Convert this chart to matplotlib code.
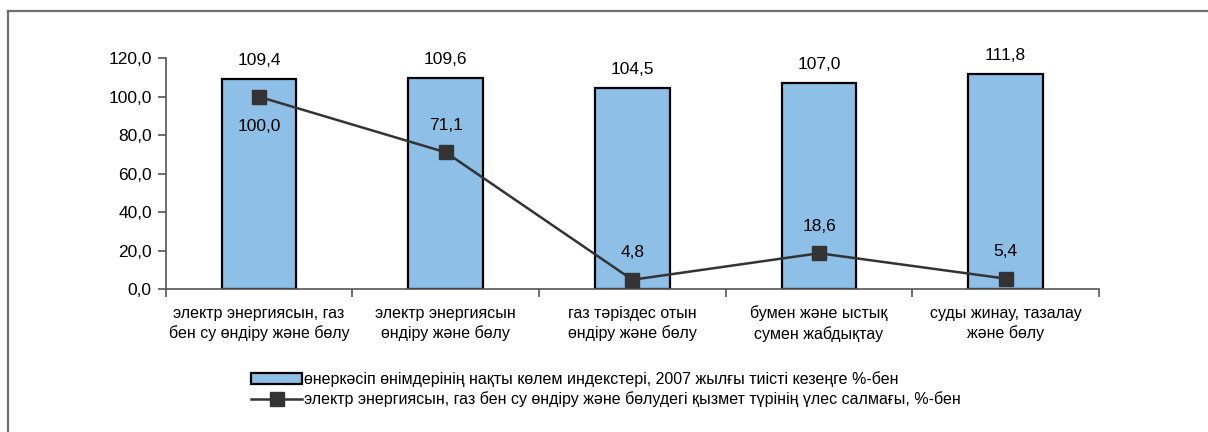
import matplotlib
matplotlib.use("Agg")
import matplotlib.pyplot as plt
from matplotlib.lines import Line2D
import numpy as np

plt.rcParams['font.family'] = ['Liberation Sans', 'DejaVu Sans']

categories = [
    "электр энергиясын, газ\nбен су өндіру және бөлу",
    "электр энергиясын\nөндіру және бөлу",
    "газ тәріздес отын\nөндіру және бөлу",
    "бумен және ыстық\nсумен жабдықтау",
    "суды жинау, тазалау\nжәне бөлу",
]
index_values = [109.4, 109.6, 104.5, 107.0, 111.8]
share_values = [100.0, 71.1, 4.8, 18.6, 5.4]
share_label_pos = ["below", "above", "above", "above", "above"]
yticks = [0, 20, 40, 60, 80, 100, 120]
legend_labels = [
    "өнеркәсіп өнімдерінің нақты көлем индекстері, 2007 жылғы тиісті кезеңге %-бен",
    "электр энергиясын, газ бен су өндіру және бөлудегі қызмет түрінің үлес салмағы, %-бен",
]

W, H = 1208, 432
fig = plt.figure(figsize=(W / 100, H / 100), dpi=100)
ax = fig.add_axes([165.7 / W, 1 - 289 / H, (1099 - 165.7) / W, (289 - 58.3) / H])

x = np.arange(len(categories))
bars = ax.bar(x, index_values, width=0.40, color="#8EBFE7", edgecolor="black",
              linewidth=1.6, zorder=2, label=legend_labels[0])
line, = ax.plot(x, share_values, color="#333333", linewidth=1.8, marker="s",
                markersize=10, markerfacecolor="#333333", markeredgecolor="#333333",
                zorder=3, label=legend_labels[1])

def fmt(v):
    return f"{v:.1f}".replace(".", ",")

for xi, v in zip(x, index_values):
    ax.annotate(fmt(v), (xi, v), xytext=(0, 8), textcoords="offset points",
                ha="center", va="bottom", fontsize=12.5)
for xi, v, pos in zip(x, share_values, share_label_pos):
    off = 14 if pos == "above" else -16
    ax.annotate(fmt(v), (xi, v), xytext=(0, off), textcoords="offset points",
                ha="center", va="bottom" if pos == "above" else "top", fontsize=12.5)

ax.set_xlim(-0.5, len(categories) - 0.5)
ax.set_ylim(0, 120)
ax.set_yticks(yticks)
ax.set_yticklabels([fmt(v) for v in yticks], fontsize=12.5)
ax.set_xticks(np.arange(len(categories) + 1) - 0.5)
ax.set_xticklabels([])
ax.set_xticks(x, minor=True)
ax.set_xticklabels(categories, minor=True, fontsize=11.5, linespacing=1.35)
ax.tick_params(axis="x", which="minor", length=0, pad=12)
ax.tick_params(axis="x", which="major", length=6, width=1.2, color="#555555", direction="out")
ax.tick_params(axis="y", length=6, width=1.2, color="#555555", direction="out", pad=4)
for s in ["top", "right"]:
    ax.spines[s].set_visible(False)
for s in ["left", "bottom"]:
    ax.spines[s].set_color("#555555")
    ax.spines[s].set_linewidth(1.2)

leg = fig.legend(handles=[bars, line], labels=legend_labels, loc="upper left",
                 bbox_to_anchor=(251 / W, 1 - 371 / H), frameon=False, fontsize=11.5,
                 handlelength=3.2, handleheight=0.65, handletextpad=0.12,
                 labelspacing=0.3, borderpad=0, borderaxespad=0)

# outer frame (top and left edges visible)
fig.add_artist(Line2D([8 / W, 1.0], [1 - 11 / H, 1 - 11 / H], color="#6e6e6e", linewidth=1.6,
                      transform=fig.transFigure))
fig.add_artist(Line2D([8 / W, 8 / W], [1 - 11 / H, 0.0], color="#6e6e6e", linewidth=1.6,
                      transform=fig.transFigure))

fig.savefig("out.png", dpi=100)
